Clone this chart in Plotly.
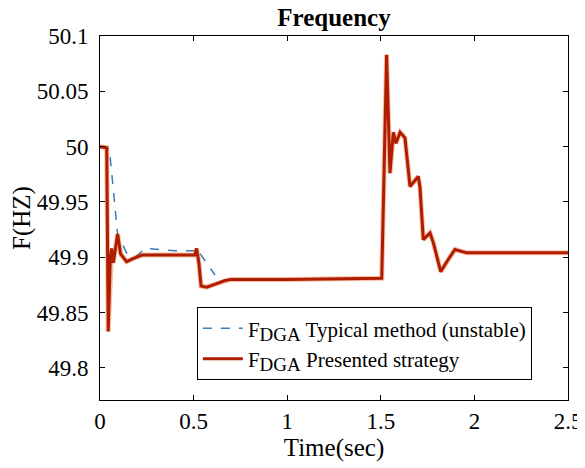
import plotly.graph_objects as go

# Data
t_typical = [0, 0.05, 0.094, 0.142, 0.187, 0.24, 0.40, 0.507, 0.516, 0.614]
f_typical = [50.0, 49.998, 49.921, 49.904, 49.900, 49.908, 49.906, 49.906, 49.908, 49.884]

t_presented = [0, 0.036, 0.044, 0.055, 0.062, 0.071, 0.080, 0.094, 0.110, 0.142, 0.180, 0.223,
               0.350, 0.507, 0.516, 0.528, 0.540, 0.570, 0.620, 0.668, 0.700, 1.000,
               1.505, 1.531, 1.549, 1.567, 1.581, 1.603, 1.629, 1.656, 1.700, 1.709,
               1.727, 1.763, 1.781, 1.820, 1.860, 1.896, 1.959, 2.100, 2.500]
f_presented = [50.0, 49.999, 49.833, 49.900, 49.908, 49.895, 49.905, 49.921, 49.903, 49.896, 49.899, 49.902,
               49.902, 49.902, 49.908, 49.895, 49.874, 49.873, 49.876, 49.879, 49.880, 49.880,
               49.881, 50.083, 49.976, 50.013, 50.003, 50.013, 50.008, 49.964, 49.973, 49.964,
               49.916, 49.922, 49.913, 49.887, 49.898, 49.907, 49.904, 49.904, 49.904]

x_ticks = [0, 0.5, 1, 1.5, 2, 2.5]
x_tick_labels = ["0", "0.5", "1", "1.5", "2", "2.5"]
y_ticks = [49.8, 49.85, 49.9, 49.95, 50.0, 50.05, 50.1]
y_tick_labels = ["49.8", "49.85", "49.9", "49.95", "50", "50.05", "50.1"]

FONT = "Liberation Serif, Times New Roman, serif"
SUB = "<sub><span style='font-size:19px'>DGA</span></sub>"

fig = go.Figure()
fig.add_trace(go.Scatter(
    x=t_typical, y=f_typical, mode="lines",
    name="F" + SUB + " Typical method (unstable)",
    line=dict(color="#3f7db5", width=1.5, dash="dash"),
))
# soft halo under the red curve
fig.add_trace(go.Scatter(
    x=t_presented, y=f_presented, mode="lines", showlegend=False, hoverinfo="skip",
    line=dict(color="rgba(235,110,50,0.45)", width=5),
))
fig.add_trace(go.Scatter(
    x=t_presented, y=f_presented, mode="lines",
    name="F" + SUB + " Presented strategy",
    line=dict(color="#b01c00", width=3),
))

axis_common = dict(
    showline=True, linecolor="black", linewidth=1, mirror="ticks",
    ticks="inside", ticklen=5, tickcolor="black", showgrid=False, zeroline=False,
    automargin=False,
    tickfont=dict(family=FONT, size=23, color="black"),
)

# margins compensate for the page's default 8px body margin
fig.update_layout(
    template="none",
    width=585, height=468,
    margin=dict(l=92, r=25, t=28, b=76, autoexpand=False),
    paper_bgcolor="white", plot_bgcolor="white",
    font=dict(family=FONT, color="black"),
    title=dict(text="<b>Frequency</b>", x=0.5, xref="paper", xanchor="center",
               y=1.0, yanchor="top", pad=dict(t=0, b=0),
               font=dict(family=FONT, size=25, color="black")),
    xaxis=dict(range=[0, 2.5], tickvals=x_ticks, ticktext=x_tick_labels, ticklabelstandoff=0,
               title=dict(text="Time(sec)", font=dict(family=FONT, size=25, color="black"), standoff=0),
               **axis_common),
    yaxis=dict(range=[49.771, 50.1], tickvals=y_ticks, ticktext=y_tick_labels, ticklabelstandoff=6,
               title=dict(text="F(HZ)", font=dict(family=FONT, size=25, color="black"), standoff=0),
               **axis_common),
    legend=dict(x=0.207, y=0.255, xanchor="left", yanchor="top",
                bgcolor="white", bordercolor="black", borderwidth=1,
                font=dict(family=FONT, size=21, color="black"),
                tracegroupgap=0, itemwidth=40),
    showlegend=True,
)

fig.write_html("out.html")
